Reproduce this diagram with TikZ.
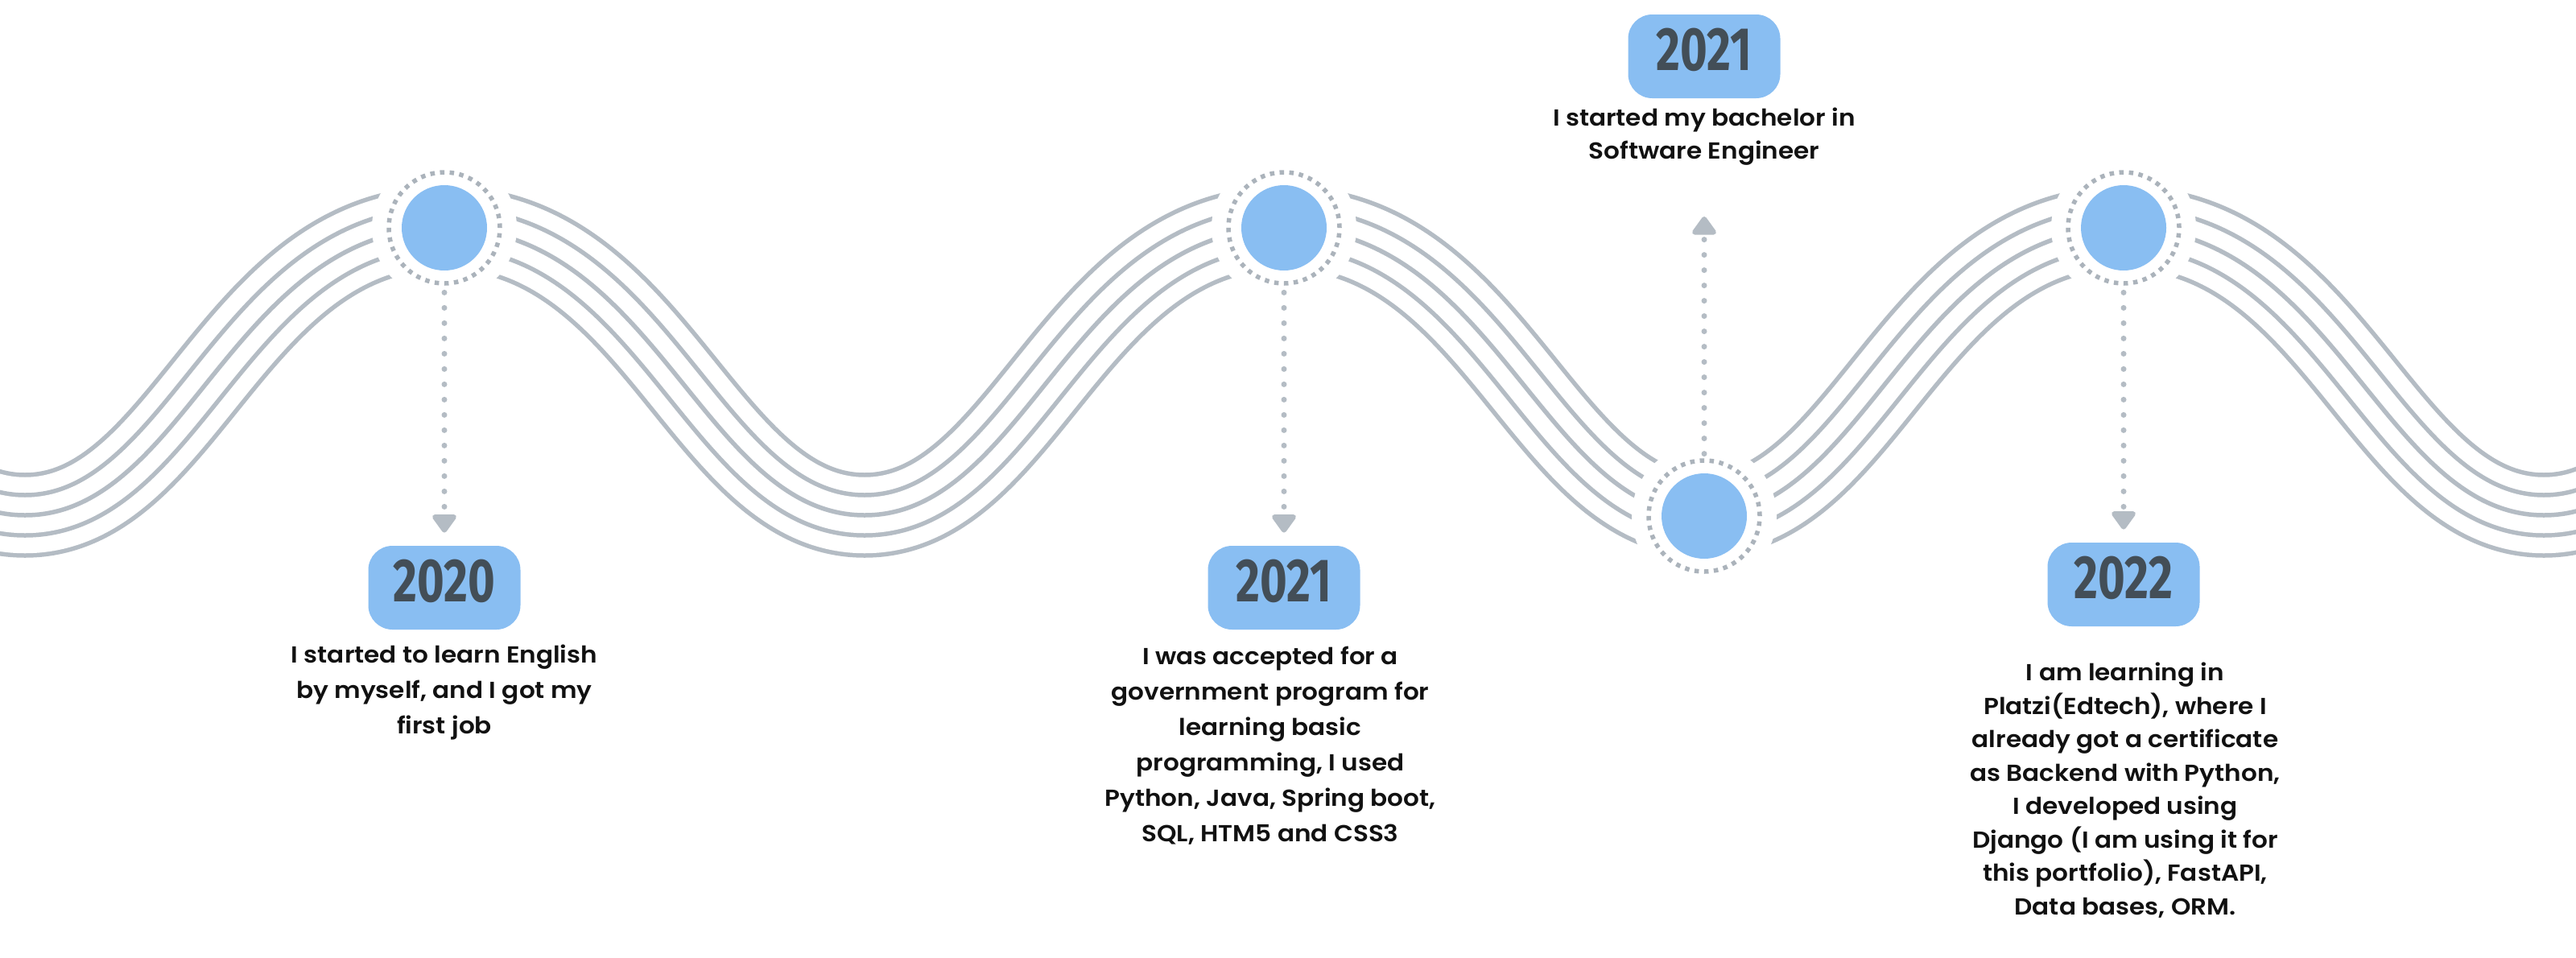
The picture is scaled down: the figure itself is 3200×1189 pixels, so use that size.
\documentclass[tikz,border=0pt]{standalone}
\usepackage{fontspec}
\setmainfont{Poppins}
\newfontfamily\bodyfont[FakeStretch=1.08]{Poppins SemiBold}
\newfontfamily\yearfont[FakeStretch=0.76]{Fira Sans}
\usetikzlibrary{arrows.meta}
\definecolor{wave}{HTML}{B4BCC4}
\definecolor{ringc}{HTML}{ABB3BB}
\definecolor{dotc}{HTML}{B4BCC4}
\definecolor{bluef}{HTML}{89BEF2}
\definecolor{yeartxt}{HTML}{434E57}
\definecolor{bodytxt}{HTML}{111111}
\begin{document}
\begin{tikzpicture}[x=0.5pt,y=-0.5pt,
  milestone/.style={circle,fill=bluef,minimum size=53pt,inner sep=0pt},
  ring/.style={draw=ringc,line width=2.75pt,dash pattern=on 2.75pt off 3.27pt},
  yearbox/.style={fill=bluef,rounded corners=15pt,minimum width=94.5pt,text height=34.5pt,text depth=17.5pt,inner sep=0pt,anchor=base,text=yeartxt,font=\yearfont\bfseries\fontsize{38pt}{38pt}\selectfont},
  story/.style={align=center,inner sep=0pt,text=bodytxt},
  pointer/.style={draw=dotc,line width=3.5pt,line cap=round,dash pattern=on 0pt off 9.5pt,-{Triangle[width=17pt,length=12.5pt,round]}},
]
\useasboundingbox (0,0) rectangle (3200,1189);
\fill[white] (0,0) rectangle (3200,1189);
\clip (0,0) rectangle (3200,1189);
% wave: five parallel strokes
\foreach \w/\c in {52.75pt/wave,47.25pt/white,27.75pt/wave,22.25pt/white,2.75pt/wave}
  \draw[line width=\w,draw=\c] (-491,283) .. controls (-229,283) and (-169,640) .. (31,640)
    .. controls (231,640) and (290,283) .. (552,283)
    .. controls (814,283) and (874,640) .. (1074,640)
    .. controls (1274,640) and (1333,283) .. (1595,283)
    .. controls (1857,283) and (1917,640) .. (2117,640)
    .. controls (2317,640) and (2376,283) .. (2638,283)
    .. controls (2900,283) and (2960,640) .. (3160,640)
    .. controls (3360,640) and (3419,283) .. (3681,283);
% halos
\foreach \p in {(552,283),(1595,283),(2117,641),(2638,283)}
  \fill[white] \p circle[radius=45pt];
% milestones
\node[milestone] (c1) at (552,283) {};
\node[milestone] (c2) at (1595,283) {};
\node[milestone] (c3) at (2117,641) {};
\node[milestone] (c4) at (2638,283) {};
\foreach \n in {c1,c2,c3,c4}
  \draw[ring] (\n.center) circle[radius=34.5pt];
% year boxes
\node[yearbox] (y1) at (552,747) {2020};
\node[yearbox] (y2) at (1595,747) {2021};
\node[yearbox] (y3) at (2117,87) {2021};
\node[yearbox] (y4) at (2638,743) {2022};
% texts
\node[story,anchor=north,font=\bodyfont\fontsize{14.4pt}{22pt}\selectfont] (t1) at (552,801) {I started to learn English\\by myself, and I got my\\first job};
\node[story,anchor=north,font=\bodyfont\fontsize{14.4pt}{22pt}\selectfont] (t2) at (1578,803) {I was accepted for a\\government program for\\learning basic\\programming, I used\\Python, Java, Spring boot,\\SQL, HTM5 and CSS3};
\node[story,anchor=south,font=\bodyfont\fontsize{14.4pt}{20.5pt}\selectfont] (t3) at (2117,206) {I started my bachelor in\\Software Engineer};
\node[story,anchor=north,font=\bodyfont\fontsize{14.4pt}{20.75pt}\selectfont] (t4) at (2640,823) {I am learning in\\Platzi(Edtech), where I\\already got a certificate\\as Backend with Python,\\I developed using\\Django (I am using it for\\this portfolio), FastAPI,\\Data bases, ORM.};
% pointers
\draw[pointer,shorten <=13.5pt,shorten >=8pt] (c1) -- (y1);
\draw[pointer,shorten <=13.5pt,shorten >=8pt] (c2) -- (y2);
\draw[pointer,shorten <=13.5pt,shorten >=8pt] (c4) -- (y4);
\draw[pointer,shorten <=12pt,shorten >=31.5pt] (c3) -- (t3);
\end{tikzpicture}
\end{document}
